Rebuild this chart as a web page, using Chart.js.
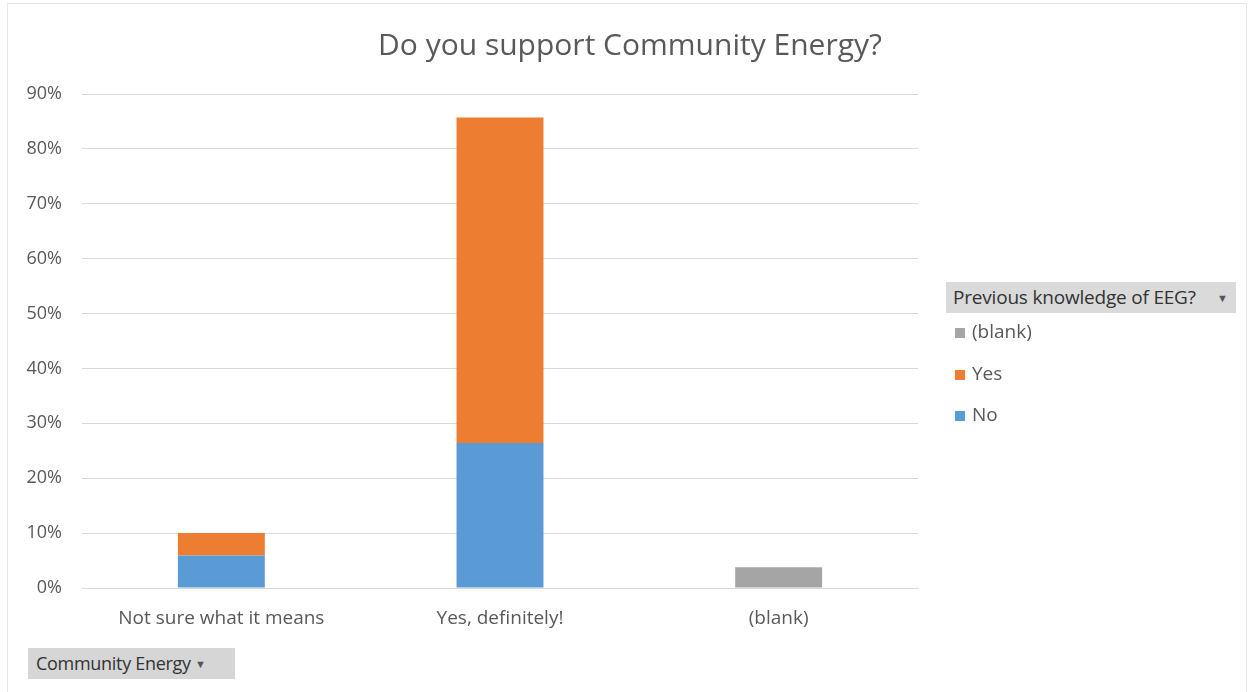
<!DOCTYPE html>
<html>
<head>
<meta charset="utf-8">
<script src="https://cdn.jsdelivr.net/npm/chart.js@4.4.0/dist/chart.umd.min.js"></script>
<style>
    html, body { margin: 0; padding: 0; background: #fff; }
    #wrap { position: relative; width: 1250px; height: 692px; font-family: 'Open Sans', 'Noto Sans', sans-serif; }
    #frame { position: absolute; left: 7px; top: 3px; width: 1240px; height: 700px; border: 1px solid #e6e6e6; box-sizing: border-box; }
    #title { position: absolute; left: 0; width: 1260px; top: 23px; text-align: center; font-size: 30px; color: #595959; }
    #legendHead { position: absolute; left: 946px; top: 282px; width: 290px; height: 31px; background: #dadada; color: #333; font-size: 19px; line-height: 31px; padding-left: 7px; box-sizing: border-box; letter-spacing: -0.2px; white-space: nowrap; }
    .arrow { position: absolute; right: 8px; top: 0; font-size: 11px; color: #555; letter-spacing: 0; }
    .item { position: absolute; left: 955px; font-size: 19px; color: #595959; height: 24px; line-height: 24px; }
    .item span.sw { display: inline-block; width: 10px; height: 10px; margin-right: 7px; vertical-align: 0px; }
    #button { position: absolute; left: 28px; top: 648px; width: 207px; height: 31px; background: #d6d6d6; color: #333; font-size: 18px; line-height: 31px; padding-left: 8px; box-sizing: border-box; letter-spacing: -0.3px; white-space: nowrap; }
    canvas { position: absolute; left: 0; top: 0; }
</style>
</head>
<body>
<div id="wrap">
    <div id="frame"></div>
    <canvas id="chart" width="1250" height="692"></canvas>
    <div id="title">Do you support Community Energy?</div>
    <div id="legendHead">Previous knowledge of EEG?<span class="arrow">&#9660;</span></div>
    <div id="legendItems"></div>
    <div id="button">Community Energy <span style="font-size:11px;color:#555;vertical-align:2px">&#9660;</span></div>
</div>
<script>
// Chart data
const categories = ['Not sure what it means', 'Yes, definitely!', '(blank)'];
const noValues = [5.9, 26.4, null];
const yesValues = [4.1, 59.3, null];
const blankValues = [null, null, 3.8];
const yTicks = [0, 10, 20, 30, 40, 50, 60, 70, 80, 90];

const series = [
    { label: 'No', data: noValues, color: '#5b9bd5' },
    { label: 'Yes', data: yesValues, color: '#ed7d31' },
    { label: '(blank)', data: blankValues, color: '#a5a5a5' }
];

document.addEventListener('DOMContentLoaded', function() {
    // legend built from the series, top item is the last series
    const legendBox = document.getElementById('legendItems');
    const legendTops = [319, 361, 402];
    series.slice().reverse().forEach((s, i) => {
        const el = document.createElement('div');
        el.className = 'item';
        el.style.top = legendTops[i] + 'px';
        el.innerHTML = '<span class="sw" style="background:' + s.color + '"></span>' + s.label;
        legendBox.appendChild(el);
    });

    const ctx = document.getElementById('chart').getContext('2d');
    new Chart(ctx, {
        type: 'bar',
        data: {
            labels: categories,
            datasets: series.map(s => ({
                label: s.label,
                data: s.data,
                backgroundColor: s.color,
                borderWidth: 0,
                barPercentage: 0.312,
                categoryPercentage: 1.0
            }))
        },
        options: {
            responsive: false,
            animation: false,
            layout: {
                padding: { top: 94, right: 332, bottom: 0, left: 0 }
            },
            plugins: {
                legend: { display: false },
                tooltip: { enabled: false },
                title: { display: false }
            },
            scales: {
                x: {
                    stacked: true,
                    grid: { display: false, drawTicks: false },
                    border: { display: true, color: '#d9d9d9', width: 1 },
                    ticks: {
                        color: '#595959',
                        padding: 19,
                        maxRotation: 0,
                        font: { family: "'Open Sans', 'Noto Sans', sans-serif", size: 19 }
                    },
                    afterFit: function(scale) { scale.height = 104; }
                },
                y: {
                    stacked: true,
                    min: 0,
                    max: 90,
                    afterBuildTicks: function(scale) {
                        scale.ticks = yTicks.map(v => ({ value: v }));
                    },
                    grid: { color: '#d9d9d9', drawTicks: false, lineWidth: 1 },
                    border: { display: false },
                    ticks: {
                        color: '#595959',
                        padding: 20,
                        font: { family: "'Open Sans', 'Noto Sans', sans-serif", size: 18 },
                        callback: function(value) { return value + '%'; }
                    },
                    afterFit: function(scale) { scale.width = 82; }
                }
            }
        }
    });
});
</script>
</body>
</html>
